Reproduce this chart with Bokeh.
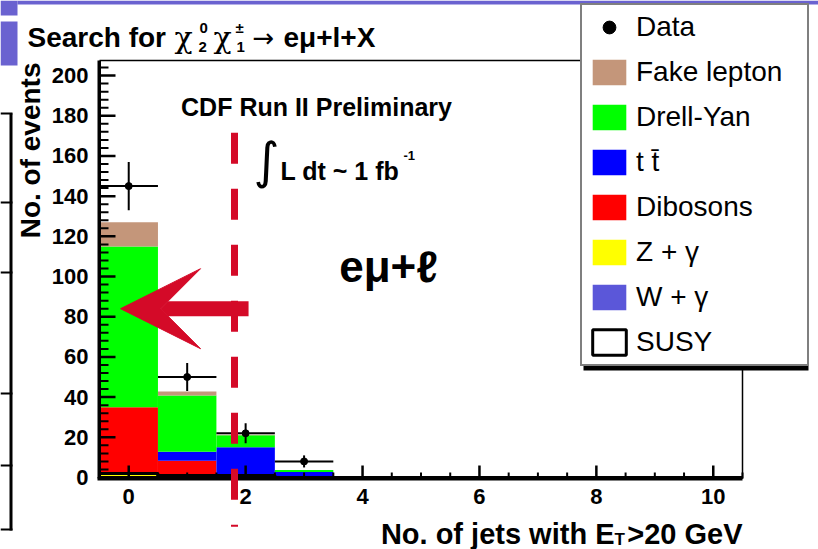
import numpy as np
from bokeh.plotting import figure
from bokeh.models import (Range1d, FixedTicker, Legend, LegendItem, Label, BoxAnnotation,
                          Arrow, VeeHead, ColumnDataSource)
from bokeh.embed import file_html
from bokeh.resources import INLINE

# ---------------- data ----------------
n_jets      = [0, 1, 2, 3, 4, 5, 6, 7, 8, 9, 10]
w_gamma     = [0.8, 0, 0, 0, 0, 0, 0, 0, 0, 0, 0]
z_gamma     = [0.8, 0.3, 0, 0, 0, 0, 0, 0, 0, 0, 0]
dibosons    = [33.4, 8, 0.5, 0.2, 0, 0, 0, 0, 0, 0, 0]
ttbar       = [0, 4.5, 14.5, 2.5, 0, 0, 0, 0, 0, 0, 0]
drell_yan   = [80, 28, 6, 1, 0, 0, 0, 0, 0, 0, 0]
fake_lepton = [12, 2, 0.3, 0, 0, 0, 0, 0, 0, 0, 0]
susy        = [2, 1, 1, 0, 0, 0, 0, 0, 0, 0, 0]

data_jets   = [0, 1, 2, 3]
data_counts = [145, 50, 22, 8]
data_err    = [12, 7, 5, 3]

stack_names  = ["W + γ", "Z + γ", "Dibosons", "t t̄", "Drell-Yan", "Fake lepton"]
stack_values = [w_gamma, z_gamma, dibosons, ttbar, drell_yan, fake_lepton]
stack_colors = ["#5b57d9", "#ffff00", "#ff0000", "#0000ff", "#00ff00", "#c4967a"]

x_major_ticks = [0, 2, 4, 6, 8, 10]
x_minor_ticks = [0.5, 1, 1.5, 2.5, 3, 3.5, 4.5, 5, 5.5, 6.5, 7, 7.5, 8.5, 9, 9.5, 10.5]
y_major_ticks = [0, 20, 40, 60, 80, 100, 120, 140, 160, 180, 200]
y_minor_ticks = [v for v in range(4, 208, 4) if v % 20]

x_lo, x_hi = -0.5, 10.5
y_lo, y_hi = -0.5, 207.5
jet_cut = 1.81          # position of the dashed cut line
arrow_y = 84            # height of the red arrow

RED = "#d40a28"
PURPLE = "#6a62d0"

# chart frame on the page (pixels); the Bokeh frame covers the whole page
FL, FT, FR, FB = 99, 60, 742, 478
W, H = 818, 549
sx = (FR - FL) / (x_hi - x_lo)
sy = (FB - FT) / (y_hi - y_lo)
x_range = Range1d(x_lo - FL / sx, x_hi + (W - FR) / sx)
y_range = Range1d(y_lo - (H - FB) / sy, y_hi + FT / sy)

p = figure(width=W, height=H, output_backend="svg", toolbar_location=None,
           x_range=x_range, y_range=y_range, min_border=0)
p.xgrid.visible = False
p.ygrid.visible = False
p.outline_line_color = None
p.background_fill_color = "white"
p.border_fill_color = "white"

# ---------------- stacked histogram ----------------
x = np.array(n_jets, dtype=float)
bottom = np.zeros(len(n_jets))
renderers = {}
for name, vals, col in zip(stack_names, stack_values, stack_colors):
    v = np.array(vals, dtype=float)
    src = ColumnDataSource(dict(left=x - 0.5, right=x + 0.5, bottom=bottom.copy(), top=bottom + v))
    renderers[name] = p.quad(left="left", right="right", bottom="bottom", top="top",
                             source=src, fill_color=col, line_color=None)
    bottom = bottom + v

susy_src = ColumnDataSource(dict(left=x - 0.5, right=x + 0.5, bottom=np.zeros(len(x)),
                                 top=np.array(susy, float)))
r_susy = p.quad(left="left", right="right", bottom="bottom", top="top", source=susy_src,
                fill_color=None, line_color="black", line_width=3)

# ---------------- data points ----------------
dx = np.array(data_jets, float)
dy = np.array(data_counts, float)
de = np.array(data_err, float)
p.segment(x0=dx, y0=dy - de, x1=dx, y1=dy + de, line_color="black", line_width=2)
p.segment(x0=dx - 0.5, y0=dy, x1=dx + 0.5, y1=dy, line_color="black", line_width=2)
r_data = p.scatter(dx, dy, size=7, color="black")

# ---------------- frame and inward ticks (ROOT style) ----------------
def hbar_ticks(yvals, length_px, thick_px):
    yv = np.array(yvals, float)
    p.quad(left=np.full(len(yv), x_lo), right=np.full(len(yv), x_lo + length_px / sx),
           bottom=yv - thick_px / 2 / sy, top=yv + thick_px / 2 / sy,
           fill_color="black", line_color=None)

def vbar_ticks(xvals, length_px, thick_px):
    xv = np.array(xvals, float)
    p.quad(left=xv - thick_px / 2 / sx, right=xv + thick_px / 2 / sx,
           bottom=np.full(len(xv), y_lo), top=np.full(len(xv), y_lo + length_px / sy),
           fill_color="black", line_color=None)

hbar_ticks(y_major_ticks, 16, 2.5)
hbar_ticks(y_minor_ticks, 9, 2)
vbar_ticks(x_major_ticks, 13, 2.5)
vbar_ticks(x_minor_ticks, 6, 2)
# frame edges: thick left/bottom, thin top/right
p.quad(left=[x_lo - 2 / sx, x_lo - 2 / sx, x_lo, x_hi - 0.75 / sx],
       right=[x_lo + 1.5 / sx, x_hi, x_hi, x_hi + 0.75 / sx],
       bottom=[y_lo, y_lo - 2 / sy, y_hi - 0.75 / sy, y_lo],
       top=[y_hi, y_lo + 1.5 / sy, y_hi + 0.75 / sy, y_hi],
       fill_color="black", line_color=None)

# ---------------- axes: tick labels ----------------
xa, ya = p.xaxis[0], p.yaxis[0]
xa.fixed_location = y_lo
ya.fixed_location = x_lo
xa.bounds = (x_lo, x_hi)
ya.bounds = (y_lo, y_hi)
xa.ticker = FixedTicker(ticks=x_major_ticks, minor_ticks=[])
ya.ticker = FixedTicker(ticks=y_major_ticks, minor_ticks=[])
for ax in (xa, ya):
    ax.axis_line_color = None
    ax.major_tick_line_color = None
    ax.minor_tick_line_color = None
    ax.major_tick_in = 0
    ax.major_tick_out = 0
    ax.minor_tick_in = 0
    ax.minor_tick_out = 0
    ax.major_label_text_font = "Liberation Sans"
    ax.major_label_text_font_style = "bold"
    ax.major_label_text_font_size = "22px"
    ax.major_label_text_color = "black"
ya.major_label_standoff = 11
xa.major_label_standoff = 10

# ---------------- helpers for page-positioned annotations ----------------
def box(x0, y0, x1, y1, color):
    p.add_layout(BoxAnnotation(left=x0, right=x1, top=H - y0, bottom=H - y1,
                               left_units="screen", right_units="screen",
                               top_units="screen", bottom_units="screen",
                               fill_color=color, fill_alpha=1, line_color=None))

def lab(text, px, py, size, style="bold", align="left", baseline="alphabetic",
        font="Liberation Sans", angle=0.0):
    p.add_layout(Label(x=px, y=H - py, x_units="screen", y_units="screen", text=text,
                       text_font=font, text_font_size=f"{size}px", text_font_style=style,
                       text_align=align, text_baseline=baseline, angle=angle,
                       text_color="black"))

# slide decorations
box(0, 0, 17, 15, PURPLE)
box(17, 0, 818, 4, PURPLE)
box(0, 21, 17, 65, PURPLE)
box(9, 113, 12, 530, "black")
for yy in (113, 202, 272, 393, 465, 529):
    box(0, yy - 1, 12, yy + 1, "black")

# ---------------- cut line and arrow ----------------
p.add_layout(Arrow(end=None, x_start=jet_cut, y_start=171.5, x_end=jet_cut, y_end=-24.5,
                   line_color=RED, line_width=7, line_dash="31 25"))
p.add_layout(Arrow(end=VeeHead(size=80, fill_color=RED, line_color=RED),
                   x_start=2.05, y_start=arrow_y, x_end=-0.14, y_end=arrow_y,
                   line_color=RED, line_width=15))

# ---------------- legend ----------------
box(583, 7, 808, 370, "black")  # shadow
items = [LegendItem(label="Data", renderers=[r_data])]
for name in ["Fake lepton", "Drell-Yan", "t t̄", "Dibosons", "Z + γ", "W + γ"]:
    items.append(LegendItem(label=name, renderers=[renderers[name]]))
items.append(LegendItem(label="SUSY", renderers=[r_susy]))
legend = Legend(items=items, location=(580, H - 366),
                label_text_font="Liberation Sans", label_text_font_size="28px",
                label_text_color="black", glyph_width=42, glyph_height=32,
                label_height=32, label_width=165, label_standoff=6,
                spacing=13, padding=6, margin=0,
                border_line_color="black", border_line_width=2,
                background_fill_color="white", background_fill_alpha=1)
p.add_layout(legend)

# ---------------- texts ----------------
lab("Search for", 27, 37, 28)
lab("χ", 183, 37, 30, style="normal", align="center", font="DejaVu Serif")
lab("0", 199, 27, 15)
lab("2", 198, 46, 15)
lab("χ", 222, 37, 30, style="normal", align="center", font="DejaVu Serif")
lab("±", 235, 27, 15)
lab("1", 236, 46, 15)
lab("→", 252, 37, 26, style="normal", font="DejaVu Sans")
lab("eμ+l+X", 283, 37, 28)

lab("CDF Run II Preliminary", 316, 106, 25, align="center", baseline="middle")
lab("∫", 266, 160, 50, style="normal", align="center", baseline="middle", font="DejaVu Sans")
lab("L dt ~ 1 fb", 280, 170, 25)
lab("-1", 403, 155, 13)
lab("eμ+ℓ", 388, 266, 44, align="center", baseline="middle")

lab("No. of events", 30, 62, 28, align="right", baseline="middle", angle=np.pi / 2)
lab("No. of jets with E", 614, 533, 29, align="right")
lab("T", 614, 539, 17)
lab(">20 GeV", 742, 533, 29, align="right")

open("out.html", "w").write(file_html(p, INLINE))
